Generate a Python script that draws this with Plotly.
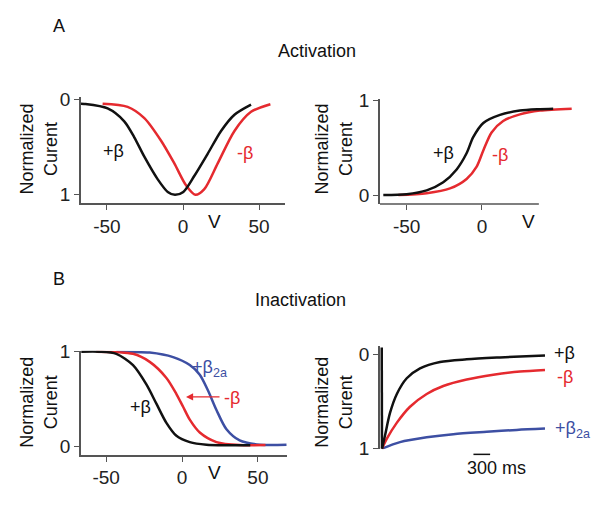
import plotly.graph_objects as go

# ---------------- data ----------------
# Panel A left: I-V curves (normalized current, 0 top / 1 bottom)
iv_v_plus = [-67, -64.9, -49.5, -38.6, -32, -25.4, -16.7, -10, -5.3, 0.2, 7.5, 16.2, 25, 33.8, 44.7]
iv_i_plus = [0.045, 0.047, 0.094, 0.229, 0.397, 0.6, 0.835, 0.97, 1.0, 0.97, 0.8, 0.57, 0.33, 0.16, 0.054]
iv_v_minus = [-52.8, -36.4, -25.4, -14.5, -5.7, 2, 8.1, 14, 22.8, 33.8, 44.7, 57.4]
iv_i_minus = [0.044, 0.077, 0.195, 0.43, 0.67, 0.9, 1.0, 0.94, 0.67, 0.33, 0.13, 0.05]

# Panel A right: activation curves
act_v_plus = [-65.5, -50, -36.7, -25.7, -16.8, -10.2, -5.8, 0.9, 12, 25.2, 38.5, 47.3]
act_g_plus = [0.0, 0.01, 0.05, 0.135, 0.27, 0.44, 0.61, 0.76, 0.845, 0.89, 0.905, 0.91]
act_v_minus = [-55.5, -36.7, -21.2, -10.2, -3.5, 0.9, 6.4, 14.1, 25.2, 38.5, 59.6]
act_g_minus = [0.0, 0.02, 0.07, 0.17, 0.30, 0.47, 0.66, 0.78, 0.85, 0.89, 0.91]

# Panel B left: steady-state inactivation
inact_v_plus = [-66.4, -54.3, -43.3, -32.3, -23.5, -16.9, -10.3, -3.7, 5.1, 16.1, 30, 45]
inact_i_plus = [1.0, 1.0, 0.977, 0.858, 0.654, 0.45, 0.247, 0.11, 0.044, 0.016, 0.01, 0.01]
inact_v_minus = [-56.5, -32.3, -21.3, -10.3, -3.7, 0.7, 5.1, 11.7, 22.7, 38, 55]
inact_i_minus = [1.0, 0.977, 0.892, 0.722, 0.552, 0.417, 0.281, 0.145, 0.044, 0.012, 0.012]
inact_v_b2a = [-43.3, -21.3, -5.9, 5.1, 11.7, 17.2, 22.7, 29.3, 38, 51.3, 69]
inact_i_b2a = [1.0, 0.99, 0.942, 0.858, 0.756, 0.586, 0.383, 0.179, 0.061, 0.016, 0.016]

# Panel B right: current traces vs time (ms)
tr_t_plus = [0, 5, 59, 149, 270, 450, 689, 1049, 1529, 2128, 2937]
tr_i_plus = [-0.078, 1.0, 0.86, 0.62, 0.42, 0.25, 0.144, 0.076, 0.048, 0.028, 0.007]
tr_t_minus = [5, 90, 270, 509, 809, 1108, 1529, 2008, 2488, 2937]
tr_i_minus = [1.0, 0.897, 0.726, 0.554, 0.418, 0.333, 0.264, 0.213, 0.178, 0.161]
tr_t_b2a = [5, 329, 809, 1288, 1888, 2428, 2937]
tr_i_b2a = [1.0, 0.931, 0.88, 0.846, 0.821, 0.801, 0.787]

v_ticks = [-50, 0, 50]
v_tick_text = ["-50", "0", "50"]

BLACK = "#111111"
RED = "#e52a2f"
BLUE = "#3d4fa3"
AXC = "#555555"
FONT = "Liberation Sans, Arial, sans-serif"
FS = 18
TFS = 19

W, H = 600, 507


def px(x):
    return x / W


def py(y):
    return 1 - y / H


fig = go.Figure()


def line(x, y, color, xa, ya, shape="spline"):
    fig.add_trace(go.Scatter(x=x, y=y, mode="lines", xaxis=xa, yaxis=ya,
                             line=dict(color=color, width=2.5, shape=shape, smoothing=0.8),
                             hoverinfo="skip", showlegend=False))


line(iv_v_minus, iv_i_minus, RED, "x", "y")
line(iv_v_plus, iv_i_plus, BLACK, "x", "y")
line(act_v_minus, act_g_minus, RED, "x2", "y2")
line(act_v_plus, act_g_plus, BLACK, "x2", "y2")
line(inact_v_b2a, inact_i_b2a, BLUE, "x3", "y3")
line(inact_v_minus, inact_i_minus, RED, "x3", "y3")
line(inact_v_plus, inact_i_plus, BLACK, "x3", "y3")
line(tr_t_b2a, tr_i_b2a, BLUE, "x4", "y4")
line(tr_t_minus, tr_i_minus, RED, "x4", "y4")
line(tr_t_plus[:2], tr_i_plus[:2], BLACK, "x4", "y4", shape="linear")
line(tr_t_plus[1:], tr_i_plus[1:], BLACK, "x4", "y4")

common_x = dict(showgrid=False, zeroline=False, ticks="outside", ticklen=5, tickwidth=1.2,
                tickcolor=AXC, linecolor=AXC, linewidth=1.5,
                tickfont=dict(family=FONT, size=TFS, color="#222"), fixedrange=True)
common_y = dict(showgrid=False, zeroline=False, ticks="outside", ticklen=5, tickwidth=1.2,
                tickcolor=AXC, linecolor=AXC, linewidth=1.5, showline=True,
                tickfont=dict(family=FONT, size=TFS, color="#222"), fixedrange=True,
                tickvals=[0, 1], ticktext=["0", "1"])

fig.update_layout(
    width=W, height=H, margin=dict(l=0, r=0, t=0, b=0),
    paper_bgcolor="white", plot_bgcolor="white",
    xaxis=dict(common_x, domain=[px(81), px(285)], range=[-67, 67], tickvals=v_ticks,
               ticktext=v_tick_text, showline=True, anchor="y"),
    yaxis=dict(common_y, domain=[py(202), py(91)], range=[1.09, -0.03], anchor="x"),
    xaxis2=dict(common_x, domain=[px(380), px(575)], range=[-67.7, 61.8], tickvals=v_ticks[:2],
                ticktext=v_tick_text[:2], showline=False, anchor="y2"),
    yaxis2=dict(common_y, domain=[py(202.7), py(93.3)], range=[-0.095, 1.014], anchor="x2"),
    xaxis3=dict(common_x, domain=[px(81), px(286.7)], range=[-66.6, 69], tickvals=v_ticks,
                ticktext=v_tick_text, showline=True, anchor="y3"),
    yaxis3=dict(common_y, domain=[py(463.3), py(355)], range=[-0.092, 1.01], anchor="x3"),
    xaxis4=dict(common_x, domain=[px(380), px(575)], range=[-31, 3477], showline=False,
                showticklabels=False, ticks="", anchor="y4"),
    yaxis4=dict(common_y, domain=[py(457.3), py(350)], range=[1.006, -0.095], anchor="x4"),
)

# x-axis line of the activation panel (shorter than the data)
fig.add_shape(type="line", xref="x2", yref="paper", x0=-67.7, x1=37.8,
              y0=py(202.7), y1=py(202.7), line=dict(color=AXC, width=1.5))
# 300 ms scale bar
fig.add_shape(type="line", xref="x4", yref="paper", x0=1650, x1=1950,
              y0=py(462.7), y1=py(462.7), line=dict(color=BLACK, width=1.5))
# arrow pointing to the -beta inactivation curve
fig.add_annotation(x=px(186), y=py(403), ax=35, ay=0, xref="paper", yref="paper",
                   axref="pixel", ayref="pixel", text="", showarrow=True, arrowhead=2,
                   arrowsize=1.1, arrowwidth=1.3, arrowcolor=RED)


def txt(x, y, s, color="#111", size=FS, angle=0, xanchor="center"):
    fig.add_annotation(x=px(x), y=py(y), xref="paper", yref="paper", text=s, showarrow=False,
                       font=dict(family=FONT, size=size, color=color), textangle=angle,
                       xanchor=xanchor, yanchor="middle")


txt(59, 18, "A")
txt(59, 281, "B")
txt(317, 44, "Activation")
txt(300, 302, "Inactivation")

ylab = "Normalized<br>Curent"
txt(39, 146, ylab, angle=-90)
txt(334, 146, ylab, angle=-90)
txt(39, 409, ylab, angle=-90)
txt(334, 409, ylab, angle=-90)

txt(214, 221, "V", size=TFS)
txt(528, 221, "V", size=TFS)
txt(214, 482, "V", size=TFS)

txt(113, 148, "+β", BLACK)
txt(245, 150, "-β", RED)
txt(443, 150, "+β", BLACK)
txt(500, 152, "-β", RED)

txt(190, 373, "+β<sub>2a</sub>", BLUE, xanchor="left")
txt(232, 404, "-β", RED)
txt(140, 413, "+β", BLACK)

txt(552, 357, "+β", BLACK, xanchor="left")
txt(555, 382, "-β", RED, xanchor="left")
txt(553, 437, "+β<sub>2a</sub>", BLUE, xanchor="left")
txt(496, 477, "300 ms")

fig.write_html("out.html", config={"displayModeBar": False},
               post_script="document.body.style.margin='0px';")
